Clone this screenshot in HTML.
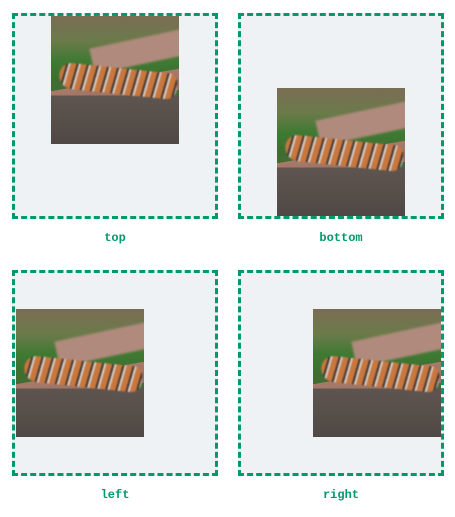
<!DOCTYPE html>
<html><head><meta charset="utf-8"><style>
body{margin:0;width:455px;height:517px;background:#fff;position:relative;font-family:"Liberation Mono",monospace;}
.box{position:absolute;width:200px;height:200px;border:3px dashed #009a6a;background:#eff2f5;overflow:hidden;}
.img{position:absolute;width:128px;height:128px;overflow:hidden;
background:
linear-gradient(180deg,transparent 0,transparent 62%,#5e5550 62%,#4f4844 100%),
linear-gradient(170deg,transparent 0,transparent 50%,#a87a6a 50%,#9a7062 64%,transparent 64%),
linear-gradient(180deg,#7a6d55 0,#6b7a4a 20%,#3e7a32 35%,#3d6e30 50%,#6a5a4a 100%);}
.ledge{position:absolute;left:40px;top:22px;width:100px;height:26px;background:#b08a7c;transform:rotate(-12deg);filter:blur(1px);}
.tiger{position:absolute;left:8px;top:52px;width:118px;height:26px;border-radius:14px 10px 12px 16px;
background:repeating-linear-gradient(100deg,#c8773e 0,#c8773e 6px,#3a302c 6px,#3a302c 8px,#ddd5d0 8px,#ddd5d0 10px);transform:rotate(6deg);filter:blur(0.8px);}
.lbl{position:absolute;width:206px;text-align:center;font-weight:bold;font-size:12px;color:#009a6a;}
</style></head><body>
<div class="box" style="left:12px;top:13px"><div class="img" style="left:36px;top:0"><div class="ledge"></div><div class="tiger"></div></div></div>
<div class="box" style="left:238px;top:13px"><div class="img" style="left:36px;top:72px"><div class="ledge"></div><div class="tiger"></div></div></div>
<div class="box" style="left:12px;top:270px"><div class="img" style="left:1px;top:36px"><div class="ledge"></div><div class="tiger"></div></div></div>
<div class="box" style="left:238px;top:270px"><div class="img" style="left:72px;top:36px"><div class="ledge"></div><div class="tiger"></div></div></div>
<div class="lbl" style="left:12px;top:231px">top</div>
<div class="lbl" style="left:238px;top:231px">bottom</div>
<div class="lbl" style="left:12px;top:488px">left</div>
<div class="lbl" style="left:238px;top:488px">right</div>
</body></html>
